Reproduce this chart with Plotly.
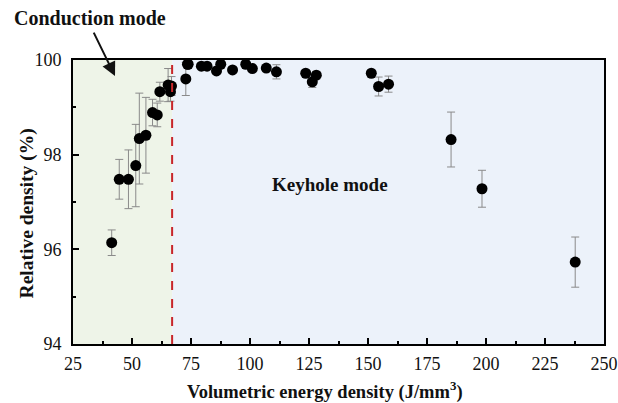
import plotly.graph_objects as go

# Volumetric energy density (J/mm^3) and measured relative density (%)
energy = [41.4, 44.6, 48.5, 51.6, 53.1, 55.9, 58.7, 60.7, 61.8, 65.3, 66.75, 66.3,
          72.8, 73.5, 73.8, 79.4, 81.8, 85.8, 87.6, 92.6, 98.2, 101.0, 106.9, 111.2,
          123.6, 126.4, 128.1, 151.4, 154.5, 158.7, 185.2, 198.3, 237.8]
density = [96.14, 97.48, 97.48, 97.77, 98.34, 98.41, 98.89, 98.84, 99.33, 99.47, 99.45, 99.33,
           99.60, 99.91, 99.91, 99.87, 99.87, 99.77, 99.91, 99.79, 99.91, 99.82, 99.83, 99.75,
           99.72, 99.54, 99.68, 99.72, 99.44, 99.49, 98.32, 97.28, 95.73]
density_err = [0.27, 0.42, 0.62, 0.87, 0.96, 0.80, 0.28, 0.25, 0.20, 0.35, 0.20, 0.20,
               0.35, 0.05, 0.05, 0.05, 0.05, 0.05, 0.05, 0.05, 0.05, 0.05, 0.05, 0.15,
               0.05, 0.12, 0.08, 0.05, 0.20, 0.17, 0.58, 0.39, 0.53]

mode_boundary = 67
x_range = [25, 250]
y_range = [94, 100]

font_family = "Liberation Serif"

fig = go.Figure()

# Regime shading: conduction (left) and keyhole (right)
fig.add_shape(type="rect", xref="x", yref="y", x0=x_range[0], x1=mode_boundary,
              y0=y_range[0], y1=y_range[1], fillcolor="#eef4e8", line_width=0, layer="below")
fig.add_shape(type="rect", xref="x", yref="y", x0=mode_boundary, x1=x_range[1],
              y0=y_range[0], y1=y_range[1], fillcolor="#ecf2fa", line_width=0, layer="below")

# Boundary between the two melting modes
fig.add_shape(type="line", xref="x", yref="y", x0=mode_boundary, x1=mode_boundary,
              y0=y_range[0], y1=y_range[1], line=dict(color="#c8262a", width=2, dash="dash"))

fig.add_trace(go.Scatter(
    x=energy, y=density, mode="markers",
    marker=dict(color="black", size=11),
    error_y=dict(type="data", array=density_err, color="#8a8a8a", thickness=1, width=4),
    cliponaxis=False, showlegend=False,
))

# Mode labels
fig.add_annotation(x=-0.1147, y=1.148, xref="paper", yref="paper", xanchor="left", yanchor="middle",
                   text="<b>Conduction mode</b>", showarrow=False,
                   font=dict(family=font_family, size=20, color="#111"))
fig.add_annotation(x=42.8, y=99.66, xref="x", yref="y", text="", showarrow=True,
                   ax=-22, ay=-45, arrowhead=2, arrowsize=1.4, arrowwidth=2, arrowcolor="#111")
fig.add_annotation(x=133.7, y=97.36, xref="x", yref="y", text="<b>Keyhole mode</b>",
                   showarrow=False, font=dict(family=font_family, size=19, color="#111"))

# Axis titles
fig.add_annotation(x=0.474, y=-0.165, xref="paper", yref="paper", xanchor="center", yanchor="middle",
                   text="<b>Volumetric energy density (J/mm<sup>3</sup>)</b>", showarrow=False,
                   font=dict(family=font_family, size=18.5, color="#111"))
fig.add_annotation(x=-0.0865, y=0.46, xref="paper", yref="paper", xanchor="center", yanchor="middle",
                   text="<b>Relative density (%)</b>", showarrow=False, textangle=-90,
                   font=dict(family=font_family, size=19.5, color="#111"))

axis_common = dict(
    showgrid=False, zeroline=False, showline=True, linecolor="black", linewidth=2,
    mirror=True, ticks="inside", ticklen=6, tickwidth=1.5, tickcolor="black",
    tickfont=dict(family=font_family, size=18, color="#111"),
    automargin=False, tickprefix="<b>", ticksuffix="</b>",
)

fig.update_xaxes(range=x_range, tickvals=list(range(25, 251, 25)),
                 minor=dict(ticks="inside", ticklen=3, tickwidth=1.5, tickcolor="black", dtick=12.5, tick0=25),
                 ticklabelstandoff=2,
                 **axis_common)
fig.update_yaxes(range=y_range, tickvals=[94, 96, 98, 100],
                 minor=dict(ticks="inside", ticklen=3, tickwidth=1.5, tickcolor="black", dtick=1, tick0=94),
                 ticklabelstandoff=6,
                 **axis_common)

fig.update_layout(
    width=618, height=403,
    margin=dict(l=73, r=14, t=60, b=59),
    paper_bgcolor="white", plot_bgcolor="white",
    font=dict(family=font_family, color="#111"),
)

fig.write_html("out.html")
